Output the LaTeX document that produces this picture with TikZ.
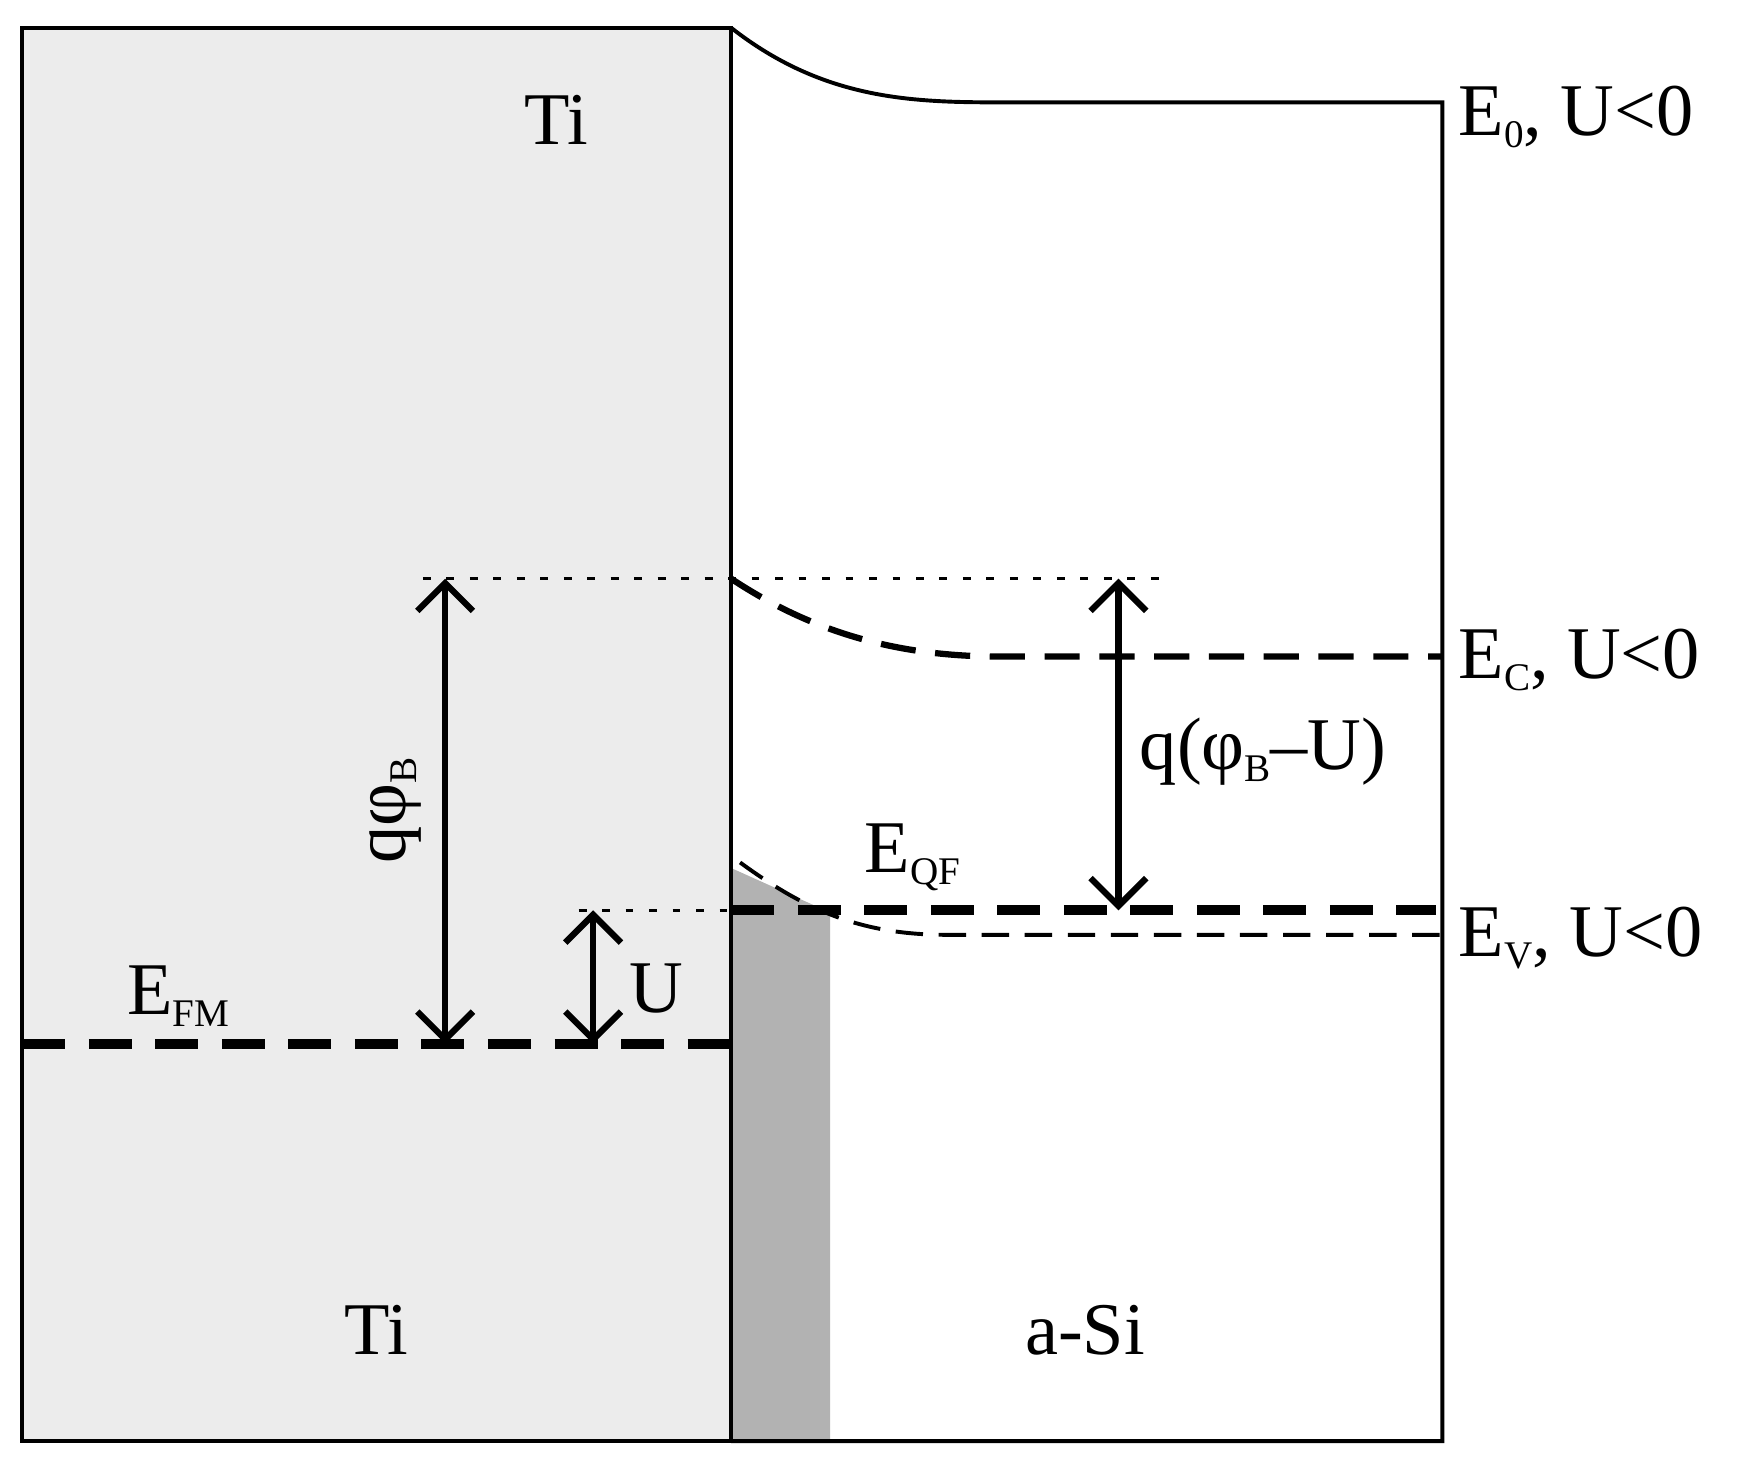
\documentclass[tikz,border=0pt]{standalone}
\usepackage{fontspec}
\setmainfont{Liberation Serif}
\usetikzlibrary{arrows.meta}
\newcommand{\sbs}[1]{\raisebox{-0.35ex}{\fontsize{10}{10}\selectfont #1}}
\begin{document}
\begin{tikzpicture}[x=0.01cm,y=-0.01cm,
 lbl/.style={font=\fontsize{19}{21}\selectfont,inner sep=0},
 dbl/.style={line width=1.6pt,{Straight Barb[length=2.5mm,width=5mm]}-{Straight Barb[length=2.5mm,width=5mm]}},
 thickdash/.style={line width=2.6pt,dash pattern=on 11pt off 6pt},
 thindash/.style={line width=1pt,dash pattern=on 7pt off 4pt},
 dots/.style={line width=0.8pt,dash pattern=on 2pt off 4pt}]
\useasboundingbox (0,0) rectangle (1568,1322);
\fill[gray!15] (20,25) rectangle (657,1295);
\fill[gray!60] (657,780) -- (746,820) -- (746,1295) -- (657,1295) -- cycle;
\draw[line width=1pt] (20,25) rectangle (657,1295);
\draw[line width=1pt] (657,25) .. controls (740,90) and (820,92) .. (900,92) -- (1296,92) -- (1296,1295) -- (657,1295);
\draw[dots] (380,520) -- (1055,520);
\draw[dots] (520,818) -- (657,818);
\draw[line width=1.6pt,dash pattern=on 9pt off 5pt] (657,520) .. controls (740,575) and (820,590) .. (900,590) -- (1296,590);
\draw[thickdash] (657,818) -- (1290,818);
\draw[thindash] (665,775) .. controls (720,815) and (770,840) .. (850,840) -- (1296,840);
\draw[thickdash] (20,938) -- (657,938);
\coordinate (a1) at (400,520); \coordinate (a2) at (400,938);
\coordinate (b1) at (533,818); \coordinate (b2) at (533,938);
\coordinate (c1) at (1005,520); \coordinate (c2) at (1005,818);
\draw[dbl] (a1) -- (a2);
\draw[dbl] (b1) -- (b2);
\draw[dbl] (c1) -- (c2);
\node[lbl] (t1) at (500,108) {Ti};
\node[lbl] (t2) at (338,1195) {Ti};
\node[lbl] (t3) at (975,1195) {a-Si};
\node[lbl,anchor=west] (e0) at (1310,105) {E\sbs{0}, U<0};
\node[lbl,anchor=west] (ec) at (1310,593) {E\sbs{C}, U<0};
\node[lbl,anchor=west] (ev) at (1310,843) {E\sbs{V}, U<0};
\node[lbl] (eqf) at (820,770) {E\sbs{QF}};
\node[lbl] (efm) at (160,895) {E\sbs{FM}};
\node[lbl,rotate=90] (qp) at (355,728) {qφ\sbs{B}};
\node[lbl] (u) at (590,888) {U};
\node[lbl] (qpu) at (1135,675) {q(φ\sbs{B}–U)};
\end{tikzpicture}
\end{document}
